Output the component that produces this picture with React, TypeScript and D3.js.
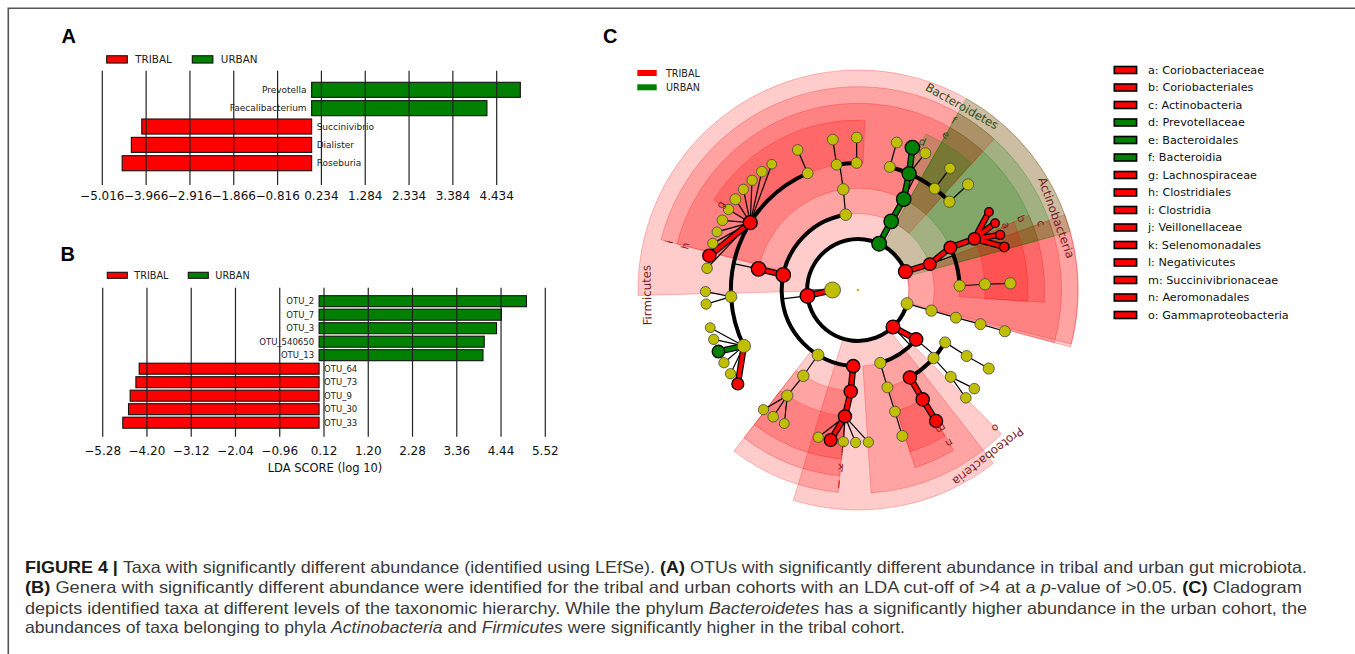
import React from 'react';
import * as d3 from 'd3';

const RED = '#ff0000';
const GREEN = '#008000';
const YELLOW = '#bfbf00';
const PLOT_FONT = '"DejaVu Sans", Verdana, sans-serif';
const CAP_FONT = '"Liberation Sans", Arial, Helvetica, sans-serif';

// ---------- panel A
const namesA = ['Prevotella', 'Faecalibacterium', 'Succinivibrio', 'Dialister', 'Roseburia'];
const ldaA = [5.0, 4.2, -4.07, -4.32, -4.54];
const ticksA = [-5.016, -3.966, -2.916, -1.866, -0.816, 0.234, 1.284, 2.334, 3.384, 4.434];

// ---------- panel B
const namesB = ['OTU_2', 'OTU_7', 'OTU_3', 'OTU_540650', 'OTU_13', 'OTU_64', 'OTU_73', 'OTU_9', 'OTU_30', 'OTU_33'];
const ldaB = [5.06, 4.45, 4.33, 4.03, 4.0, -4.39, -4.47, -4.61, -4.65, -4.79];
const ticksB = [-5.28, -4.2, -3.12, -2.04, -0.96, 0.12, 1.2, 2.28, 3.36, 4.44, 5.52];

const groups = ['TRIBAL', 'URBAN'];
const groupColors = [RED, GREEN];

// ---------- panel C: cladogram
// [id, parent, level, angle(deg, clockwise from east), status, abundance]
const clades: [string, string, number, number, string, number][] = [
  ['K', '', 1, 180, 'n', 100],
  ['F', 'K', 2, 173.3, 'T', 24],
  ['B', 'K', 2, 294.5, 'U', 24],
  ['A', 'K', 2, 338.7, 'T', 12],
  ['Y1', 'K', 2, 15.5, 'n', 1.5],
  ['P', 'K', 2, 46.6, 'T', 10],
  // Firmicutes
  ['l', 'F', 3, 93.6, 'T', 6],
  ['c121', 'F', 3, 121.6, 'n', 1.5],
  ['i', 'F', 3, 191.4, 'T', 22],
  ['c261', 'F', 3, 260.7, 'n', 1.2],
  ['k', 'l', 4, 94.1, 'T', 6],
  ['o122', 'c121', 4, 122.5, 'n', 1],
  ['h', 'i', 4, 192, 'T', 20],
  ['o262', 'c261', 4, 261.7, 'n', 1],
  ['j', 'k', 5, 95.9, 'T', 5],
  ['f124', 'o122', 5, 123.8, 'n', 0.8],
  ['f154', 'h', 5, 153.9, 'n', 6],
  ['f177', 'h', 5, 177, 'n', 1.2],
  ['g', 'h', 5, 212, 'T', 12],
  ['f247', 'h', 5, 246.7, 'n', 0.5],
  ['f260', 'o262', 5, 260.3, 'n', 0.5],
  ['f269', 'o262', 5, 269.4, 'n', 0.5],
  // Bacteroidetes
  ['f', 'B', 3, 295.8, 'U', 22],
  ['e', 'f', 4, 296.7, 'U', 20],
  ['f284', 'e', 5, 284.5, 'n', 0.6],
  ['d', 'e', 5, 293.7, 'U', 14],
  ['f307', 'e', 5, 307.1, 'n', 0.6],
  ['f316', 'e', 5, 316, 'n', 0.8],
  // Actinobacteria
  ['c', 'A', 3, 340.2, 'T', 3],
  ['b', 'c', 4, 335.3, 'T', 3],
  ['oA', 'c', 4, 357.6, 'n', 0.8],
  ['a', 'b', 5, 336.3, 'T', 2.5],
  ['fA', 'oA', 5, 357.4, 'n', 0.8],
  // unnamed phylum
  ['cY', 'Y1', 3, 15.7, 'n', 0.8],
  ['oY', 'cY', 4, 15.8, 'n', 0.6],
  ['fY', 'oY', 5, 15.6, 'n', 0.6],
  // Proteobacteria
  ['o', 'P', 3, 40.4, 'T', 7],
  ['c73', 'P', 3, 73, 'n', 0.8],
  ['oP31', 'o', 4, 31, 'n', 0.6],
  ['oP42', 'o', 4, 42, 'n', 0.8],
  ['n', 'o', 4, 59.3, 'T', 6],
  ['o73', 'c73', 4, 73.2, 'n', 0.6],
  ['fP31', 'oP31', 5, 31.3, 'n', 0.6],
  ['fP43', 'oP42', 5, 43.1, 'n', 0.6],
  ['m', 'n', 5, 59.4, 'T', 6],
  ['f73', 'o73', 5, 73.1, 'n', 0.5],
];

// genus level leaves: [parent, angle, status, abundance]
const genera: [string, number, string, number][] = [
  ['j', 105.1, 'n', 0.3], ['j', 100.3, 'T', 4], ['j', 95.5, 'n', 0.3], ['j', 90.9, 'n', 0.3], ['j', 86.1, 'n', 0.3],
  ['f124', 128.3, 'n', 0.3], ['f124', 123.8, 'n', 0.4], ['f124', 118.9, 'n', 0.2],
  ['f154', 165.7, 'n', 0.2], ['f154', 161.1, 'n', 0.3], ['f154', 156.2, 'U', 3], ['f154', 151.5, 'n', 0.3],
  ['f154', 146.7, 'n', 0.3], ['f154', 142, 'T', 1.5],
  ['f177', 179.4, 'n', 0.3], ['f177', 174.7, 'n', 0.3],
  ['g', 188.2, 'n', 0.4], ['g', 193, 'T', 6], ['g', 197.8, 'n', 0.3], ['g', 202.4, 'n', 0.2], ['g', 207.2, 'n', 0.4],
  ['g', 211.9, 'n', 0.3], ['g', 216.5, 'n', 0.6], ['g', 221.3, 'n', 0.3], ['g', 226, 'n', 0.3], ['g', 230.9, 'n', 0.4],
  ['g', 235.6, 'n', 0.15],
  ['f247', 246.7, 'n', 0.4], ['f260', 260.5, 'n', 0.5], ['f269', 269.5, 'n', 0.5],
  ['f284', 284.7, 'n', 0.5], ['d', 290.9, 'U', 20], ['d', 296.2, 'n', 0.6], ['f307', 307.1, 'n', 0.4], ['f316', 316.2, 'n', 0.8],
  ['a', 329.2, 'T', 0.05], ['a', 334, 'T', 0.05], ['a', 338.8, 'T', 0.08], ['a', 343.6, 'T', 0.15],
  ['fA', 357.5, 'n', 0.8], ['fY', 15.7, 'n', 0.7],
  ['fP31', 31, 'n', 0.7], ['fP43', 40.3, 'n', 0.4], ['fP43', 45, 'n', 0.4], ['m', 59.2, 'T', 5], ['f73', 73.1, 'n', 0.6],
];

// shaded biomarker clades: [label, level, start angle, angular extent, status]
const wedges: [string, number, number, number, string][] = [
  ['Firmicutes', 2, 178.6, 195.6, 'T'],
  ['Actinobacteria', 2, 340, 35, 'T'],
  ['Proteobacteria', 2, 52, 55.1, 'T'],
  ['Bacteroidetes', 2, 299.5, 45.1, 'U'],
  ['i', 3, 194.3, 117.7, 'T'],
  ['l', 3, 95.6, 32, 'T'],
  ['o', 3, 45.1, 41.2, 'T'],
  ['c', 3, 340, 35, 'T'],
  ['f', 3, 299.5, 45.1, 'U'],
  ['h', 4, 194.3, 117.7, 'T'],
  ['k', 4, 95.6, 32, 'T'],
  ['n', 4, 59.2, 13, 'T'],
  ['b', 4, 336.4, 27.4, 'T'],
  ['e', 4, 299.5, 45.1, 'U'],
  ['g', 5, 211.9, 60.4, 'T'],
  ['j', 5, 95.6, 32, 'T'],
  ['m', 5, 59.2, 13, 'T'],
  ['a', 5, 336.4, 27.4, 'T'],
  ['d', 5, 293.5, 18.2, 'U'],
];

const legendNames = [
  'a: Coriobacteriaceae', 'b: Coriobacteriales', 'c: Actinobacteria', 'd: Prevotellaceae', 'e: Bacteroidales',
  'f: Bacteroidia', 'g: Lachnospiraceae', 'h: Clostridiales', 'i: Clostridia', 'j: Veillonellaceae',
  'k: Selenomonadales', 'l: Negativicutes', 'm: Succinivibrionaceae', 'n: Aeromonadales', 'o: Gammaproteobacteria',
];
const legendStatus = ['T', 'T', 'T', 'U', 'U', 'U', 'T', 'T', 'T', 'T', 'T', 'T', 'T', 'T', 'T'];

const caption: [string, string][][] = [
  [['FIGURE 4 | ', 'b'], ['Taxa with significantly different abundance (identified using LEfSe). ', ''], ['(A)', 'b'],
    [' OTUs with significantly different abundance in tribal and urban gut microbiota.', '']],
  [['(B)', 'b'], [' Genera with significantly different abundance were identified for the tribal and urban cohorts with an LDA cut-off of >4 at a ', ''],
    ['p', 'i'], ['-value of >0.05. ', ''], ['(C)', 'b'], [' Cladogram', '']],
  [['depicts identified taxa at different levels of the taxonomic hierarchy. While the phylum ', ''], ['Bacteroidetes', 'i'],
    [' has a significantly higher abundance in the urban cohort, the', '']],
  [['abundances of taxa belonging to phyla ', ''], ['Actinobacteria', 'i'], [' and ', ''], ['Firmicutes', 'i'],
    [' were significantly higher in the tribal cohort.', '']],
];
const captionWidths = [1282, 1277, 1282, 880];

const statusColor: Record<string, string> = { T: RED, U: GREEN, n: YELLOW };
const labelColor: Record<string, string> = { T: '#7a1c1c', U: '#2a5220' };

function BarPanel({ letter, names, values, ticks, fmt, cfg }: any) {
  const x = d3.scaleLinear().domain([ticks[0], ticks[ticks.length - 1]]).range(cfg.xRange);
  const y = d3.scaleBand<string>().domain(names).range(cfg.yRange).paddingInner(cfg.pad).paddingOuter(cfg.pad / 2);
  const x0 = x(0);
  return (
    <g>
      <text x={cfg.letter[0]} y={cfg.letter[1]} fontFamily={CAP_FONT} fontWeight="bold" fontSize={20}>{letter}</text>
      {groups.map((gname, i) => (
        <g key={gname}>
          <rect x={cfg.legX[i]} y={cfg.legY - cfg.legH / 2} width={cfg.legW} height={cfg.legH}
            fill={groupColors[i]} stroke="#111" strokeWidth={1.1} />
          <text x={cfg.legX[i] + cfg.legDx} y={cfg.legY} dominantBaseline="central"
            fontFamily={PLOT_FONT} fontSize={cfg.legFs} fill="#222">{gname}</text>
        </g>
      ))}
      {names.map((nm: string, i: number) => {
        const v = values[i];
        return (
          <rect key={nm} x={Math.min(x(v), x0)} y={y(nm)} width={Math.abs(x(v) - x0)} height={y.bandwidth()}
            fill={v > 0 ? GREEN : RED} stroke="#111" strokeWidth={1.1} />
        );
      })}
      {ticks.map((t: number) => (
        <line key={t} x1={x(t)} x2={x(t)} y1={cfg.grid[0]} y2={cfg.grid[1]} stroke="#222" strokeWidth={1.2} />
      ))}
      {names.map((nm: string, i: number) => {
        const v = values[i];
        return (
          <text key={nm} x={v > 0 ? x0 - 5 : x0 + 5} y={(y(nm) as number) + y.bandwidth() / 2}
            textAnchor={v > 0 ? 'end' : 'start'} dominantBaseline="central"
            fontFamily={PLOT_FONT} fontSize={cfg.labFs} fill="#222">{nm}</text>
        );
      })}
      {ticks.map((t: number) => (
        <text key={'t' + t} x={x(t)} y={cfg.tickY} textAnchor="middle" fontFamily={PLOT_FONT}
          fontSize={12} fill="#111">{fmt(t)}</text>
      ))}
      {cfg.title && (
        <text x={cfg.title[1]} y={cfg.title[2]} textAnchor="middle" fontFamily={PLOT_FONT} fontSize={11.5}
          fill="#111">{cfg.title[0]}</text>
      )}
    </g>
  );
}

const CX = 858;
const CY = 290;
const levelR = d3.scaleLinear().domain([1, 6]).range([25.5, 152.5]);
const wedgeOuter = d3.scaleLinear().domain([2, 5]).range([220, 170]);
const sizeR = d3.scaleLog().domain([0.01, 100]).range([3.5, 8]).clamp(true);
const rad = (deg: number) => (deg * Math.PI) / 180;
const polar = (deg: number, r: number): [number, number] =>
  [CX + r * Math.cos(rad(deg)), CY + r * Math.sin(rad(deg))];

function Cladogram() {
  type N = { id: string; parent: string; level: number; angle: number; status: string; ab: number };
  const nodes: N[] = clades.map(([id, parent, level, angle, status, ab]) => ({ id, parent, level, angle, status, ab }));
  genera.forEach(([parent, angle, status, ab], i) => nodes.push({ id: 'g' + i, parent, level: 6, angle, status, ab }));
  const kids = d3.group(nodes.filter((n) => n.parent), (n) => n.parent);

  const thin: string[] = [];
  const thick: string[] = [];
  const colored: { d: string; c: string }[] = [];
  const seg = (a: [number, number], b: [number, number]) => `M${a[0]},${a[1]}L${b[0]},${b[1]}`;

  for (const p of nodes) {
    const ch = kids.get(p.id);
    if (!ch) continue;
    const pPos = polar(p.angle, levelR(p.level));
    const allLeaves = ch.every((k) => !kids.has(k.id));
    if (ch.length === 1 || allLeaves) {
      // fan of straight branches
      ch.forEach((k) => {
        const d = seg(pPos, polar(k.angle, levelR(k.level)));
        if (k.status !== 'n') colored.push({ d, c: statusColor[k.status] });
        else thin.push(d);
      });
    } else {
      // radial stem + arc through the children
      const rc = levelR(ch[0].level);
      thin.push(seg(pPos, polar(p.angle, rc)));
      const angs = ch.map((k) => k.angle).concat([p.angle]);
      const a0 = d3.min(angs) as number;
      const a1 = d3.max(angs) as number;
      const path = d3.path();
      const s = polar(a0, rc);
      path.moveTo(s[0], s[1]);
      path.arc(CX, CY, rc, rad(a0), rad(a1));
      thick.push(path.toString());
      ch.forEach((k) => {
        if (k.status !== 'n' && Math.abs(k.angle - p.angle) < 10) {
          colored.push({ d: seg(pPos, polar(k.angle, rc)), c: statusColor[k.status] });
        }
      });
    }
  }

  const arcGen = d3.arc<any>();
  return (
    <g>
      <text x={603} y={43.3} fontFamily={CAP_FONT} fontWeight="bold" fontSize={20}>C</text>
      {groups.map((gname, i) => (
        <g key={gname}>
          <rect x={637.3} y={70 + i * 14.3} width={19.4} height={6} fill={groupColors[i]} />
          <text x={666} y={73.3 + i * 14.3} dominantBaseline="central" fontFamily={PLOT_FONT} fontSize={9.6}
            fill="#222">{gname}</text>
        </g>
      ))}
      {wedges.map(([lab, lev, a0, ext, st]) => (
        <path key={'w' + lab} transform={`translate(${CX},${CY})`}
          d={arcGen({ innerRadius: levelR(lev), outerRadius: wedgeOuter(lev), startAngle: rad(a0 + 90), endAngle: rad(a0 + ext + 90) }) as string}
          fill={statusColor[st]} fillOpacity={0.2} stroke={statusColor[st]} strokeOpacity={0.25} strokeWidth={1} />
      ))}
      {thin.map((d, i) => <path key={'tn' + i} d={d} stroke="#000" strokeWidth={1.2} fill="none" />)}
      {thick.map((d, i) => <path key={'tk' + i} d={d} stroke="#000" strokeWidth={4} fill="none" />)}
      {colored.map((e, i) => <path key={'cb' + i} d={e.d} stroke="#000" strokeWidth={6.5} fill="none" />)}
      {colored.map((e, i) => <path key={'cc' + i} d={e.d} stroke={e.c} strokeWidth={4} fill="none" />)}
      <circle cx={CX} cy={CY} r={1.3} fill={YELLOW} />
      {nodes.map((n) => {
        const [px, py] = polar(n.angle, levelR(n.level));
        return (
          <circle key={n.id} cx={px} cy={py} r={sizeR(n.ab)} fill={statusColor[n.status]}
            stroke={n.status === 'n' ? '#444' : '#000'} strokeWidth={n.status === 'n' ? 0.8 : 1.3} />
        );
      })}
      {wedges.map(([lab, lev, a0, , st]) => {
        const r = lev === 2 ? 211 : wedgeOuter(lev) - 8;
        const [px, py] = polar(a0, r);
        return (
          <text key={'l' + lab} x={px} y={py} transform={`rotate(${a0 + 90},${px},${py})`}
            textAnchor="middle" dominantBaseline="central" fontFamily={PLOT_FONT}
            fontSize={lev === 2 ? 11.8 : 10.5} fill={labelColor[st]}>{lab}</text>
        );
      })}
      {legendNames.map((nm, i) => (
        <g key={nm}>
          <rect x={1114.3} y={66.5 + i * 17.5} width={22.3} height={7} fill={statusColor[legendStatus[i]]}
            stroke="#000" strokeWidth={1.6} />
          <text x={1148} y={70 + i * 17.5} dominantBaseline="central" fontFamily={PLOT_FONT} fontSize={11.2}
            fill="#111">{nm}</text>
        </g>
      ))}
    </g>
  );
}

function Caption() {
  const base = [573, 593.3, 613.5, 633.4];
  return (
    <g fontFamily={CAP_FONT} fontSize={16.5} fill="#3a3a3a">
      {caption.map((line, li) => (
        <text key={li} x={25} y={base[li]} textLength={captionWidths[li]} lengthAdjust="spacingAndGlyphs">
          {line.map(([t, s], k) => (
            <tspan key={k} fontWeight={s === 'b' ? 'bold' : 'normal'} fontStyle={s === 'i' ? 'italic' : 'normal'}
              fill={s === 'b' ? '#1a1a1a' : '#3a3a3a'} style={{ whiteSpace: 'pre' }}>{t}</tspan>
          ))}
        </text>
      ))}
    </g>
  );
}

export default function App() {
  const fmt3 = d3.format('.3f');
  const fmt2 = d3.format('.2f');
  const cfgA = {
    xRange: [102.3, 496.7], yRange: [80.65, 172.4], pad: 0.18, grid: [70.7, 185], tickY: 200,
    labFs: 9, legX: [106.7, 192.3], legY: 59.4, legW: 20.6, legH: 7.3, legDx: 28.5, legFs: 10.4, letter: [61.5, 42.7],
  };
  const cfgB = {
    xRange: [102.7, 545.3], yRange: [294.45, 429.45], pad: 0.185, grid: [287.7, 436.7], tickY: 455,
    labFs: 8.5, legX: [107.3, 188.3], legY: 275.3, legW: 20, legH: 6, legDx: 27, legFs: 9.7, letter: [60.5, 260.7],
    title: ['LDA SCORE (log 10)', 325, 471.5],
  };
  return (
    <div style={{ position: 'fixed', left: 0, top: 0, background: '#fff' }}>
      <svg width={1355} height={654} viewBox="0 0 1355 654" style={{ display: 'block' }}>
        <rect width={1355} height={654} fill="#fff" />
        <path d="M8.3,654V8.3H1355" stroke="#555" strokeWidth={1.6} fill="none" />
        <BarPanel letter="A" names={namesA} values={ldaA} ticks={ticksA} fmt={fmt3} cfg={cfgA} />
        <BarPanel letter="B" names={namesB} values={ldaB} ticks={ticksB} fmt={fmt2} cfg={cfgB} />
        <Cladogram />
        <Caption />
      </svg>
    </div>
  );
}
